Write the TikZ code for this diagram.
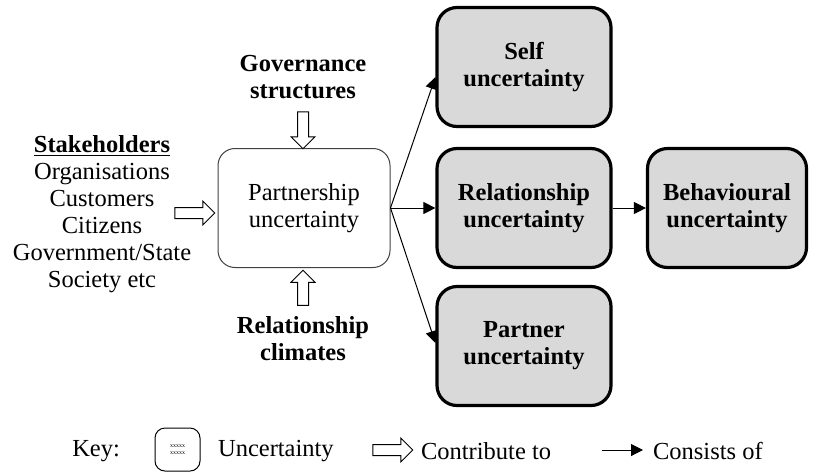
\documentclass[tikz,border=0pt]{standalone}
\usepackage{fontspec}
\setmainfont{Liberation Serif}
\usetikzlibrary{shapes.arrows, arrows.meta, positioning, calc}

\newcommand{\dgfont}{\fontsize{12.25}{13.5}\selectfont}

\tikzset{
  unc/.style={rectangle, rounded corners=10pt, draw, line width=1.6pt, fill=black!15,
    minimum width=87pt, minimum height=59.5pt, align=center, font=\dgfont\bfseries},
  partbox/.style={rectangle, rounded corners=8.5pt, draw=black!75, line width=0.5pt,
    minimum width=86pt, minimum height=59.5pt, align=center, font=\dgfont},
  contrib/.style={single arrow, draw, line width=0.5pt, fill=white, inner xsep=0pt,
    inner ysep=2.5pt, single arrow head extend=3.25pt},
  consist/.style={line width=0.5pt, -{Triangle[length=6pt, width=6pt]}},
  label/.style={align=center, font=\dgfont}
}

\begin{document}
\begin{tikzpicture}[x=0.5pt, y=-0.5pt]
        \useasboundingbox (0, 0) rectangle (817, 472);

        % centre and the uncertainties
        \node[partbox] (part) at (304, 208) {Partnership\\uncertainty};
        \node[unc] (self) at (524, 67) {Self\\uncertainty};
        \node[unc] (rel) at (524, 208) {Relationship\\uncertainty};
        \node[unc] (partner) at (524, 346) {Partner\\uncertainty};
        \node[unc, minimum width=79.5pt] (behav) at (727, 208) {Behavioural\\uncertainty};

        % what feeds in
        \node[label] (stake) at (102, 214) {\underline{\textbf{Stakeholders}}\\Organisations\\Customers\\Citizens\\Government/State\\Society etc};
        \node[label, font=\dgfont\bfseries] (gov) at (303, 77) {Governance\\structures};
        \node[label, font=\dgfont\bfseries] (clim) at (303, 339) {Relationship\\climates};

        \node[contrib, minimum height=20pt] (a1) at (192, 213) {};
        \node[contrib, minimum height=18.5pt, rotate=-90] (a2) at (303, 127.5) {};
        \node[contrib, minimum height=17.5pt, rotate=90] (a3) at (303, 290.5) {};

        \draw[consist] (part.east) to ($(self.west)+(0,10)$);
        \draw[consist] (part.east) to (rel.west);
        \draw[consist] (part.east) to ($(partner.west)+(0,-3)$);
        \draw[consist] (rel.east) to (behav.west);

        % key
        \node[label, anchor=east] (key) at (127, 451) {Key:};
        \node[rectangle, rounded corners=5pt, draw, line width=0.5pt, minimum width=22.5pt,
            minimum height=21.5pt, align=center, font=\fontsize{3}{3.5}\selectfont] (kbox) at (177.5, 449.5) {xxxxx\\xxxxx};
        \node[label, anchor=west] (kunc) at (211, 451) {Uncertainty};
        \node[contrib, minimum height=20pt] (kcon) at (390, 450) {};
        \node[label, anchor=west] (kcontxt) at (414, 451) {Contribute to};
        \coordinate (ks) at (602, 450);
        \coordinate (ke) at (643, 450);
        \draw[consist] (ks) to (ke);
        \node[label, anchor=west] (kcons) at (646, 451) {Consists of};
\end{tikzpicture}
\end{document}
